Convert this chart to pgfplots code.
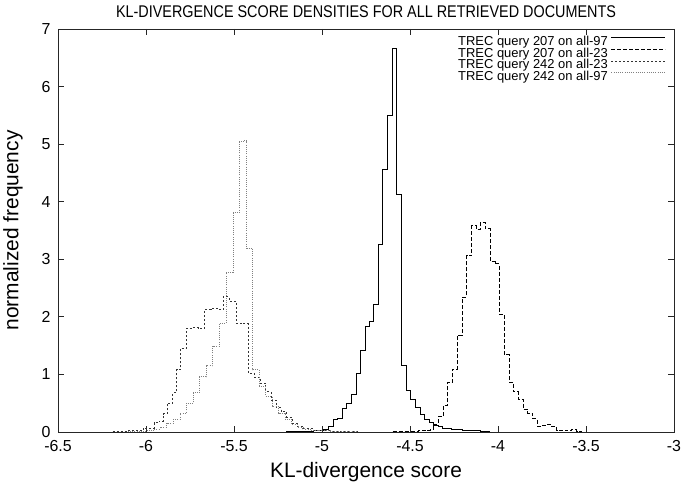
\documentclass[border=0pt]{standalone}
\usepackage{fontspec}
\setmainfont{Liberation Sans}
\newfontfamily\narrowfont[FakeStretch=0.85]{Liberation Sans}
\usepackage{pgfplots}
\pgfplotsset{compat=1.18}

\begin{document}
\begin{tikzpicture}
\begin{axis}[
  name=ax,
  width=616bp, height=403bp, scale only axis,
  xmin=-6.5, xmax=-3, ymin=0, ymax=7,
  xtick={-6.5,-6,-5.5,-5,-4.5,-4,-3.5,-3},
  xticklabels={-6.5,-6,-5.5,-5,-4.5,-4,-3.5,-3},
  ytick={0,1,2,3,4,5,6,7},
  yticklabels={0,1,2,3,4,5,6,7},
  tick align=inside, major tick length=6bp,
  axis line style={line width=0.9bp, black!85},
  every tick/.style={line width=0.8bp, black!85},
  tick label style={font=\fontsize{16}{16}\selectfont},
  xticklabel style={yshift=-5bp},
  yticklabel style={xshift=-4bp},
  xlabel={KL-divergence score},
  ylabel={normalized frequency},
  label style={font=\fontsize{21}{21}\selectfont},
  xlabel style={at={(axis description cs:0.5,0)}, anchor=center, yshift=-40bp},
  ylabel style={at={(axis description cs:-0.073,0.5)}, anchor=center},
  title={KL-DIVERGENCE SCORE DENSITIES FOR ALL RETRIEVED DOCUMENTS},
  title style={font=\narrowfont\fontsize{17}{17}\selectfont, at={(axis description cs:0.5,1)}, anchor=center, yshift=11bp},
  legend style={draw=none, fill=none, at={(1,1)}, anchor=north east, xshift=-5bp, yshift=-5bp,
    font=\fontsize{13}{13}\selectfont, nodes={inner xsep=3bp, inner ysep=0pt}, row sep=0.8bp},
  legend plot pos=right, legend cell align=right,
  legend image code/.code={\draw[#1] (0bp,4bp) -- (54bp,4bp);},
  const plot mark left,
]
% TREC query 207 on all-97
\addplot[black, line width=0.9bp] table {
-5.300 0.00
-5.200 0.01
-5.050 0.02
-5.000 0.03
-4.990 0.05
-4.964 0.09
-4.936 0.21
-4.913 0.24
-4.885 0.41
-4.860 0.50
-4.835 0.66
-4.807 1.02
-4.780 1.41
-4.754 1.83
-4.731 1.92
-4.705 2.22
-4.680 3.25
-4.655 4.56
-4.629 5.49
-4.602 6.66
-4.576 4.13
-4.551 1.16
-4.523 0.72
-4.496 0.57
-4.470 0.42
-4.443 0.31
-4.419 0.22
-4.392 0.16
-4.367 0.12
-4.340 0.10
-4.314 0.07
-4.288 0.06
-4.262 0.05
-4.236 0.04
-4.200 0.03
-4.150 0.02
-4.100 0.01
-4.050 0.00
-4.000 0.00
};
% TREC query 207 on all-23
\addplot[black, line width=0.8bp, dash pattern=on 4bp off 2bp] table {
-4.800 0.00
-4.600 0.01
-4.450 0.02
-4.413 0.03
-4.386 0.04
-4.368 0.14
-4.339 0.27
-4.311 0.46
-4.286 0.86
-4.258 1.09
-4.231 1.68
-4.203 2.34
-4.178 3.06
-4.149 3.58
-4.125 3.52
-4.098 3.64
-4.072 3.53
-4.045 2.96
-4.017 2.92
-3.992 2.05
-3.966 1.34
-3.938 0.86
-3.913 0.70
-3.885 0.57
-3.856 0.39
-3.831 0.32
-3.803 0.23
-3.777 0.10
-3.750 0.12
-3.723 0.13
-3.695 0.10
-3.667 0.03
-3.638 0.02
-3.610 0.03
-3.581 0.05
-3.553 0.01
-3.525 0.00
-3.400 0.00
};
% TREC query 242 on all-23
\addplot[black!80, line width=0.8bp, dash pattern=on 2bp off 2bp] table {
-6.300 0.00
-6.200 0.01
-6.100 0.02
-6.015 0.07
-5.955 0.16
-5.926 0.19
-5.902 0.32
-5.877 0.50
-5.848 0.68
-5.826 1.08
-5.803 1.45
-5.773 1.80
-5.737 1.81
-5.700 1.80
-5.667 2.13
-5.630 2.15
-5.595 2.13
-5.561 2.35
-5.527 2.27
-5.489 1.89
-5.454 1.88
-5.419 1.02
-5.385 0.95
-5.350 0.85
-5.320 0.70
-5.290 0.55
-5.260 0.42
-5.230 0.35
-5.200 0.25
-5.170 0.15
-5.140 0.10
-5.110 0.06
-5.050 0.03
-4.950 0.01
-4.800 0.00
-4.700 0.00
};
% TREC query 242 on all-97
\addplot[black!50, line width=0.8bp, dash pattern=on 1bp off 1.2bp] table {
-6.200 0.00
-6.100 0.01
-5.996 0.02
-5.958 0.05
-5.920 0.08
-5.882 0.15
-5.845 0.22
-5.807 0.32
-5.773 0.50
-5.731 0.68
-5.697 0.96
-5.659 1.15
-5.621 1.49
-5.583 1.89
-5.545 2.78
-5.504 3.81
-5.470 5.04
-5.449 5.06
-5.428 3.19
-5.394 1.08
-5.358 0.80
-5.321 0.62
-5.284 0.45
-5.247 0.33
-5.210 0.22
-5.173 0.13
-5.136 0.08
-5.099 0.05
-5.062 0.03
-5.025 0.02
-4.950 0.01
-4.800 0.00
-4.700 0.00
};
\legend{TREC query 207 on all-97, TREC query 207 on all-23, TREC query 242 on all-23, TREC query 242 on all-97}
\end{axis}
\pgfresetboundingbox
\path[use as bounding box] ([shift={(-58bp,-58bp)}]ax.south west) rectangle ([shift={(9bp,29bp)}]ax.north east);
\end{tikzpicture}
\end{document}
